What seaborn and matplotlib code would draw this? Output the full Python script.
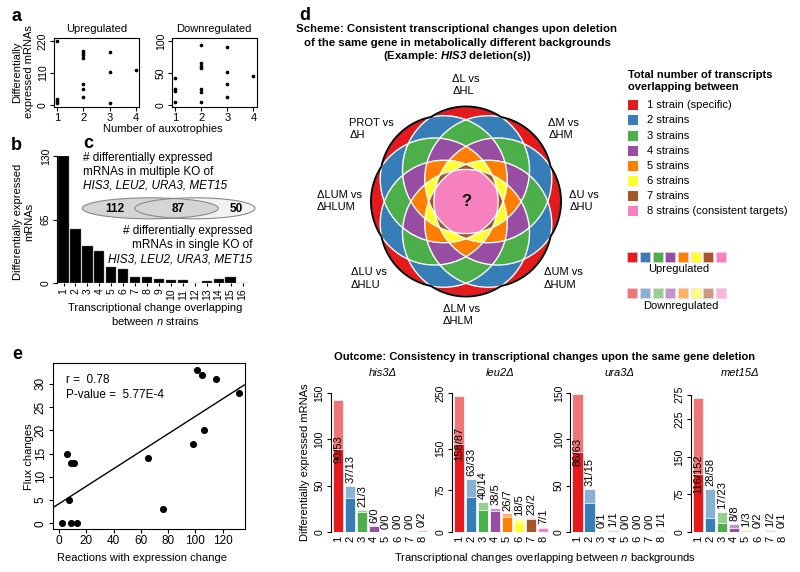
import numpy as np
import matplotlib
matplotlib.use("Agg")
import matplotlib.pyplot as plt
import seaborn as sns
from matplotlib.patches import Ellipse, Rectangle, Circle

# ---------------- data ----------------
# panel a: differentially expressed mRNAs vs number of auxotrophies
auxo_up_x = [1, 1, 1, 1, 2, 2, 2, 2, 2, 2, 2, 3, 3, 3, 4]
auxo_up_y = [220, 20, 14, 6, 187, 180, 172, 161, 71, 54, 26, 181, 112, 6, 121]
auxo_down_x = [1, 1, 1, 1, 2, 2, 2, 2, 2, 2, 2, 3, 3, 3, 3, 4]
auxo_down_y = [42, 25, 22, 4, 93, 65, 61, 58, 25, 21, 5, 91, 52, 33, 12, 46]

# panel b: transcriptional change overlapping between n strains
overlap_n = list(range(1, 17))
overlap_counts = [130, 55, 38, 33, 16, 14, 6, 6, 4, 3, 3, 0, 2, 4, 6, 0]

# panel c: venn numbers
venn_multi_only = 112
venn_both = 87
venn_single_only = 50

# panel d: scheme legend
strain_levels = ["1 strain (specific)", "2 strains", "3 strains", "4 strains",
                 "5 strains", "6 strains", "7 strains", "8 strains (consistent targets)"]
comparison_labels = ["\u0394L vs\n\u0394HL", "\u0394M vs\n\u0394HM", "\u0394U vs\n\u0394HU",
                     "\u0394UM vs\n\u0394HUM", "\u0394LM vs\n\u0394HLM", "\u0394LU vs\n\u0394HLU",
                     "\u0394LUM vs\n\u0394HLUM", "PROT vs\n\u0394H"]

# panel e: reactions with expression change vs flux changes
reactions_expr = [2, 9, 13, 6, 9, 11, 7, 65, 76, 98, 101, 105, 106, 115, 132]
flux_changes = [0, 0, 0, 15, 13, 13, 5, 14, 3, 17, 33, 32, 20, 31, 28]

# bottom: consistency per gene deletion (up / down)
genes = ["his3\u0394", "leu2\u0394", "ura3\u0394", "met15\u0394"]
backgrounds_n = ["1", "2", "3", "4", "5", "6", "7", "8"]
his3_up = [90, 37, 21, 6, 0, 0, 0, 0]
his3_down = [53, 13, 3, 0, 0, 0, 0, 2]
leu2_up = [158, 63, 40, 38, 26, 18, 23, 7]
leu2_down = [87, 33, 14, 5, 7, 5, 2, 1]
ura3_up = [86, 31, 0, 1, 0, 0, 0, 1]
ura3_down = [63, 15, 1, 1, 0, 0, 0, 1]
met15_up = [116, 28, 17, 8, 1, 0, 1, 0]
met15_down = [152, 58, 23, 8, 3, 2, 2, 1]
gene_yticks = [[0, 50, 100, 150], [0, 75, 150, 250], [0, 50, 100, 150], [0, 75, 150, 225, 275]]

# ---------------- style ----------------
sns.set_theme(style="ticks")
plt.rcParams["font.family"] = ["Liberation Sans", "DejaVu Sans"]
plt.rcParams.update({
    "font.size": 8, "axes.linewidth": 0.8,
    "xtick.major.width": 0.8, "ytick.major.width": 0.8,
    "xtick.major.size": 3, "ytick.major.size": 3,
    "xtick.major.pad": 1.5, "ytick.major.pad": 1.5,
    "xtick.color": "black", "ytick.color": "black",
    "axes.edgecolor": "black", "text.color": "black",
    "mathtext.fontset": "custom", "mathtext.rm": "Liberation Sans",
    "mathtext.it": "Liberation Sans:italic", "mathtext.bf": "Liberation Sans:bold",
    "mathtext.bfit": "Liberation Sans:italic:bold",
})

W, H = 800, 572
fig = plt.figure(figsize=(W / 100, H / 100), dpi=100)


def pax(l, t, r, b):
    return fig.add_axes([l / W, 1 - b / H, (r - l) / W, (b - t) / H])


def rot_yticklabels(ax, fs):
    ax.tick_params(axis="y", labelsize=fs)
    for lab in ax.get_yticklabels():
        lab.set_rotation(90)
        lab.set_va("center")
        lab.set_ha("right")


set1 = sns.color_palette("Set1", 8)
light = [tuple(1 - 0.6 * (1 - c) for c in col) for col in set1]

# ---------------- panel a ----------------
ax_up = pax(54, 38, 139, 107)
sns.scatterplot(x=auxo_up_x, y=auxo_up_y, ax=ax_up, color="black", s=7, linewidth=0)
ax_up.set(xlim=(0.88, 4.12), ylim=(-6.9, 230.3), xticks=[1, 2, 3, 4], yticks=[0, 110, 220])
ax_up.tick_params(axis="x", labelsize=8)
rot_yticklabels(ax_up, 7.5)

ax_dn = pax(172, 38, 256.5, 107)
sns.scatterplot(x=auxo_down_x, y=auxo_down_y, ax=ax_dn, color="black", s=7, linewidth=0)
ax_dn.set(xlim=(0.88, 4.12), ylim=(-3.1, 104.7), xticks=[1, 2, 3, 4], yticks=[0, 50, 100])
ax_dn.tick_params(axis="x", labelsize=8)
rot_yticklabels(ax_dn, 7.5)

# ---------------- panel b ----------------
ax_b = pax(57, 156, 248.5, 283)
sns.barplot(x=overlap_n, y=overlap_counts, ax=ax_b, color="black", saturation=1,
            width=0.86, edgecolor="#777777", linewidth=0.3)
ax_b.set_xlim(-0.55, 15.5)
ax_b.set_ylim(0, 130)
ax_b.set_yticks([0, 65, 130])
ax_b.set_xlabel("")
ax_b.set_ylabel("")
for s in ["top", "right", "bottom"]:
    ax_b.spines[s].set_visible(False)
ax_b.spines["left"].set_bounds(0, 130)
ax_b.tick_params(axis="x", labelrotation=90, labelsize=7.5, length=2.5)
rot_yticklabels(ax_b, 7.5)

# ---------------- panel e ----------------
ax_e = pax(53, 363, 244.5, 529)
ax_e.set_xlim(-4.4, 136)
ax_e.set_ylim(-1.23, 34.5)
sns.regplot(x=reactions_expr, y=flux_changes, ax=ax_e, ci=None, truncate=False,
            color="black", scatter_kws=dict(s=26, linewidths=0, alpha=1),
            line_kws=dict(lw=1))
ax_e.set_xlim(-4.4, 136)
ax_e.set_ylim(-1.23, 34.5)
ax_e.set_xticks(range(0, 121, 20))
ax_e.set_yticks(range(0, 31, 5))
ax_e.tick_params(axis="x", labelsize=8.5)
rot_yticklabels(ax_e, 8.5)

# ---------------- bottom: per-gene bars ----------------
gene_up = [his3_up, leu2_up, ura3_up, met15_up]
gene_down = [his3_down, leu2_down, ura3_down, met15_down]
boxes = [(330.7, 428), (451.7, 549), (570, 667.3), (690.7, 788)]
ytops = [150, 250, 150, 277.5]
for k in range(4):
    l, r = boxes[k]
    ax = pax(l, 393.3, r, 531.7)
    ups = gene_up[k]
    downs = gene_down[k]
    tots = [u + d for u, d in zip(ups, downs)]
    sns.barplot(x=backgrounds_n, y=tots, hue=backgrounds_n, palette=light, legend=False,
                saturation=1, width=0.85, edgecolor="white", linewidth=0.5, ax=ax)
    sns.barplot(x=backgrounds_n, y=ups, hue=backgrounds_n, palette=set1, legend=False,
                saturation=1, width=0.85, edgecolor="white", linewidth=0.5, ax=ax)
    for i, (u, d, t) in enumerate(zip(ups, downs, tots)):
        if i == 0:
            ax.text(i, u, f"{u}/{d}", rotation=90, ha="center", va="center", fontsize=8)
        else:
            ax.annotate(f"{u}/{d}", xy=(i, t), xytext=(0, 2), textcoords="offset points",
                        rotation=90, ha="center", va="bottom", fontsize=8)
    ax.set_xlim(-0.62, 7.5)
    ax.set_ylim(0, ytops[k])
    ax.set_yticks(gene_yticks[k])
    ax.set_xlabel("")
    ax.set_ylabel("")
    for s in ["top", "right", "bottom"]:
        ax.spines[s].set_visible(False)
    ax.spines["left"].set_bounds(0, gene_yticks[k][-1])
    ax.tick_params(axis="x", length=0, labelrotation=90, labelsize=8, pad=3)
    rot_yticklabels(ax, 7.5)

# ---------------- overlay (texts, schemes) ----------------
ov = fig.add_axes([0, 0, 1, 1], zorder=10)
ov.set_xlim(0, W)
ov.set_ylim(H, 0)
ov.axis("off")
ov.patch.set_alpha(0)

# panel letters
for let, x, y in [("a", 11, 21), ("b", 11, 150), ("c", 83, 148.5), ("d", 299, 20), ("e", 12, 359)]:
    ov.text(x, y, let, fontsize=13, fontweight="bold", va="baseline", ha="left")

# panel a texts
ov.text((54 + 139) / 2, 29.5, "Upregulated", ha="center", va="center", fontsize=8)
ov.text((172 + 256.5) / 2, 29.5, "Downregulated", ha="center", va="center", fontsize=8)
ov.text(23, 72, "Differentially\nexpressed mRNAs", rotation=90, ha="center", va="center",
        fontsize=8, linespacing=1.15)
ov.text(163, 129, "Number of auxotrophies", ha="center", va="center", fontsize=8)

# panel b texts
ov.text(24, 222, "Differentially expressed\nmRNAs", rotation=90, ha="center", va="center",
        fontsize=8, linespacing=1.15)
ov.text(155, 315, "Transcriptional change overlapping\nbetween $\\mathit{n}$ strains",
        ha="center", va="center", fontsize=8, linespacing=1.25)

# panel c
ov.add_patch(Ellipse((195, 208.3), 120, 21, fc="#f2f2f2", ec="none"))
ov.add_patch(Ellipse((150.3, 208.3), 136, 21, fc="#d5d5d5", ec="none"))
ov.add_patch(Ellipse((195, 208.3), 120, 21, fill=False, ec="#8a8a8a", lw=0.8))
ov.add_patch(Ellipse((150.3, 208.3), 136, 21, fill=False, ec="#8a8a8a", lw=0.8))
ov.text(115, 208.5, str(venn_multi_only), ha="center", va="center", fontsize=8.5, fontweight="bold")
ov.text(178, 208.5, str(venn_both), ha="center", va="center", fontsize=8.5, fontweight="bold")
ov.text(236, 208.5, str(venn_single_only), ha="center", va="center", fontsize=8.5, fontweight="bold")
ov.text(83, 158, "# differentially expressed", ha="left", va="center", fontsize=8.5)
ov.text(83, 172, "mRNAs in multiple KO of", ha="left", va="center", fontsize=8.5)
ov.text(83, 186, "HIS3, LEU2, URA3, MET15", ha="left", va="center", fontsize=8.5, style="italic")
ov.text(252, 231, "# differentially expressed", ha="right", va="center", fontsize=8.5)
ov.text(252, 245, "mRNAs in single KO of", ha="right", va="center", fontsize=8.5)
ov.text(252, 259, "HIS3, LEU2, URA3, MET15", ha="right", va="center", fontsize=8.5, style="italic")

# panel d title
ov.text(457, 29, "Scheme: Consistent transcriptional changes upon deletion", ha="center",
        va="center", fontsize=8.2, fontweight="bold")
ov.text(457, 42.7, "of the same gene in metabolically different backgrounds", ha="center",
        va="center", fontsize=8.2, fontweight="bold")
ov.text(457, 56.3, "(Example: $\\mathbfit{HIS3}$ deletion(s))", ha="center", va="center",
        fontsize=8.2, fontweight="bold")

# panel d venn of 8 circles
cx, cy, Rc, dc = 466.0, 201.5, 63.5, 31.5
angs = np.deg2rad(90 - 45 * np.arange(8))
centers = [(cx + dc * np.cos(a), cy - dc * np.sin(a)) for a in angs]
gx = np.linspace(cx - 100, cx + 100, 801)
gy = np.linspace(cy - 100, cy + 100, 801)
GX, GY = np.meshgrid(gx, gy)
cnt = np.zeros_like(GX, dtype=int)
for (ux, uy) in centers:
    cnt += ((GX - ux) ** 2 + (GY - uy) ** 2 <= Rc ** 2).astype(int)
rgba = np.zeros(GX.shape + (4,))
for n in range(1, 9):
    rgba[cnt == n, :3] = set1[n - 1]
    rgba[cnt == n, 3] = 1
ov.imshow(rgba, extent=(gx[0], gx[-1], gy[-1], gy[0]), origin="upper", aspect="auto",
          interpolation="bilinear", zorder=2)
for (ux, uy) in centers:
    ov.add_patch(Circle((ux, uy), Rc, fill=False, ec="white", lw=1.0, zorder=3))
tt = np.linspace(0, 2 * np.pi, 2000)
for k, (ux, uy) in enumerate(centers):
    px = ux + Rc * np.cos(tt)
    py = uy + Rc * np.sin(tt)
    inside = np.zeros_like(px, dtype=bool)
    for j, (vx, vy) in enumerate(centers):
        if j != k:
            inside |= (px - vx) ** 2 + (py - vy) ** 2 < (Rc - 0.05) ** 2
    px[inside] = np.nan
    py[inside] = np.nan
    ov.plot(px, py, color="black", lw=1.4, zorder=4, solid_capstyle="butt")
ov.set_xlim(0, W)
ov.set_ylim(H, 0)
ov.text(cx, cy, "?", ha="center", va="center", fontsize=12, fontweight="bold", zorder=5)

lab_pos = [(452.3, 85), (548.3, 129), (569.3, 200.7), (544, 278.3), (443, 315),
           (351, 278.3), (316.7, 200.7), (349.3, 129)]
for txt, (x, y) in zip(comparison_labels, lab_pos):
    ov.text(x, y, txt, ha="left", va="center", fontsize=8, linespacing=1.3)

# legend of panel d
ov.text(628.3, 81.3, "Total number of transcripts\noverlapping between", ha="left", va="center",
        fontsize=8, fontweight="bold", linespacing=1.3)
leg_y = [105, 120, 135.7, 150.7, 165.7, 181, 196, 211]
for i, (lab, y) in enumerate(zip(strain_levels, leg_y)):
    ov.add_patch(Rectangle((628.3, y - 5), 10, 10, fc=set1[i], ec="none"))
    ov.text(647.3, y, lab, ha="left", va="center", fontsize=8)
for i in range(8):
    x = 627.3 + i * 12.67
    ov.add_patch(Rectangle((x, 251.7), 10, 10, fc=set1[i], ec="#f6cfe0", lw=0.4))
    ov.add_patch(Rectangle((x, 288.3), 10, 10, fc=light[i], ec="#f6cfe0", lw=0.4))
ov.text(679, 269.3, "Upregulated", ha="center", va="center", fontsize=8)
ov.text(681, 305.7, "Downregulated", ha="center", va="center", fontsize=8)

# panel e texts
ov.text(65.7, 380, "r =  0.78", ha="left", va="center", fontsize=8.5)
ov.text(65.7, 395, "P-value =  5.77E-4", ha="left", va="center", fontsize=8.5)
ov.text(29, 457, "Flux changes", rotation=90, ha="center", va="center", fontsize=8)
ov.text(142, 558, "Reactions with expression change", ha="center", va="center", fontsize=8)

# bottom texts
ov.text(545, 357, "Outcome: Consistency in transcriptional changes upon the same gene deletion",
        ha="center", va="center", fontsize=8, fontweight="bold")
for g, x in zip(genes, [383, 500, 620, 740]):
    ov.text(x, 372.7, g, ha="center", va="center", fontsize=8, style="italic")
ov.text(305, 462, "Differentially expressed mRNAs", rotation=90, ha="center", va="center", fontsize=8)
ov.text(544.5, 558.3, "Transcriptional changes overlapping between $\\mathit{n}$ backgrounds",
        ha="center", va="center", fontsize=8)

fig.savefig("out.png", dpi=100)
